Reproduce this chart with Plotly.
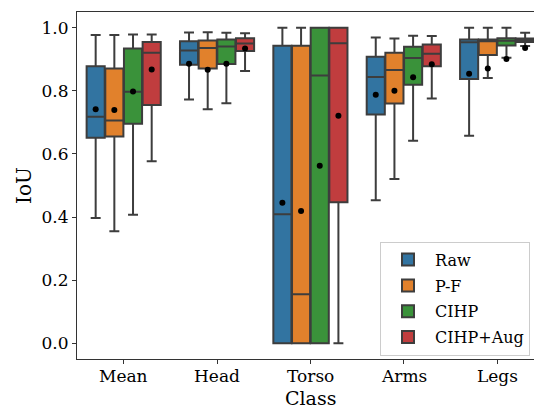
import plotly.graph_objects as go

categories = ["Mean", "Head", "Torso", "Arms", "Legs"]
series = ["Raw", "P-F", "CIHP", "CIHP+Aug"]
colors = ["#3274a1", "#e1812c", "#3a923a", "#c03d3e"]

# per series: values for [Mean, Head, Torso, Arms, Legs]
upper = {
    "Raw":      [0.977, 0.985, 1.000, 0.969, 1.000],
    "P-F":      [0.977, 0.986, 1.000, 0.966, 1.000],
    "CIHP":     [0.979, 0.984, 1.000, 0.975, 1.000],
    "CIHP+Aug": [0.979, 0.983, 1.000, 0.974, 0.984],
}
q3 = {
    "Raw":      [0.878, 0.957, 0.943, 0.908, 0.963],
    "P-F":      [0.871, 0.960, 0.943, 0.921, 0.963],
    "CIHP":     [0.934, 0.963, 1.000, 0.940, 0.967],
    "CIHP+Aug": [0.955, 0.967, 1.000, 0.947, 0.966],
}
median = {
    "Raw":      [0.718, 0.928, 0.409, 0.844, 0.954],
    "P-F":      [0.706, 0.936, 0.155, 0.866, 0.957],
    "CIHP":     [0.797, 0.941, 0.849, 0.904, 0.959],
    "CIHP+Aug": [0.921, 0.950, 0.951, 0.918, 0.960],
}
q1 = {
    "Raw":      [0.651, 0.883, 0.000, 0.725, 0.838],
    "P-F":      [0.655, 0.871, 0.000, 0.760, 0.914],
    "CIHP":     [0.696, 0.885, 0.000, 0.819, 0.944],
    "CIHP+Aug": [0.755, 0.926, 0.447, 0.878, 0.955],
}
lower = {
    "Raw":      [0.397, 0.773, 0.000, 0.453, 0.658],
    "P-F":      [0.355, 0.742, 0.000, 0.521, 0.841],
    "CIHP":     [0.407, 0.761, 0.000, 0.642, 0.905],
    "CIHP+Aug": [0.577, 0.863, 0.000, 0.776, 0.942],
}
mean = {
    "Raw":      [0.742, 0.886, 0.445, 0.788, 0.854],
    "P-F":      [0.739, 0.867, 0.419, 0.800, 0.871],
    "CIHP":     [0.798, 0.886, 0.563, 0.843, 0.901],
    "CIHP+Aug": [0.868, 0.934, 0.721, 0.884, 0.936],
}

FONT = "DejaVu Serif"
EDGE = "#3d3d3d"
group_width = 0.8
n = len(series)
bw = group_width / n

fig = go.Figure()
for k, s in enumerate(series):
    off = -group_width / 2 + bw * (k + 0.5)
    xs = [i + off for i in range(len(categories))]
    fig.add_trace(go.Box(
        name=s, x=xs, legendgroup=s,
        q1=q1[s], median=median[s], q3=q3[s],
        lowerfence=lower[s], upperfence=upper[s],
        width=bw * 0.97,
        fillcolor=colors[k],
        line=dict(color=EDGE, width=2),
        whiskerwidth=0.55,
        boxpoints=False,
        hoverinfo="skip",
    ))
for k, s in enumerate(series):
    off = -group_width / 2 + bw * (k + 0.5)
    xs = [i + off for i in range(len(categories))]
    fig.add_trace(go.Scatter(
        x=xs, y=mean[s], mode="markers",
        marker=dict(color="black", size=6),
        showlegend=False, hoverinfo="skip",
    ))

# category tick labels and x-axis title as annotations (tighter placement)
for i, c in enumerate(categories):
    fig.add_annotation(
        x=i, xref="x", y=0, yref="paper", yanchor="top", yshift=-5,
        text=c, showarrow=False, font=dict(size=17, family=FONT, color="black"),
    )
fig.add_annotation(
    x=2, xref="x", y=0, yref="paper", yanchor="top", yshift=-26,
    text="Class", showarrow=False, font=dict(size=19, family=FONT, color="black"),
)

fig.update_layout(
    width=534, height=408,
    margin=dict(l=77, r=0, t=12, b=49, autoexpand=False),
    paper_bgcolor="white", plot_bgcolor="white",
    boxmode="overlay",
    font=dict(family=FONT, color="black", size=16),
    showlegend=True,
    legend=dict(
        x=0.663, y=0.338, xanchor="left", yanchor="top",
        bgcolor="rgba(255,255,255,0.8)", bordercolor="#cccccc", borderwidth=1,
        font=dict(family=FONT, size=16),
        tracegroupgap=2, itemwidth=44,
    ),
)
fig.update_xaxes(
    automargin=False,
    range=[-0.5, 4.395],
    tickmode="array", tickvals=list(range(len(categories))),
    showticklabels=False,
    showgrid=False, zeroline=False,
    showline=True, linecolor="#333333", linewidth=1, mirror=True,
    ticks="outside", ticklen=4, tickcolor="#333333",
)
fig.update_yaxes(
    automargin=False,
    range=[-0.05, 1.05],
    tickvals=[0.0, 0.2, 0.4, 0.6, 0.8, 1.0],
    ticktext=["0.0", "0.2", "0.4", "0.6", "0.8", "1.0"],
    showgrid=False, zeroline=False,
    showline=True, linecolor="#333333", linewidth=1,
    ticks="outside", ticklen=4, tickcolor="#333333",
    tickfont=dict(size=17),
    title=dict(text="IoU", font=dict(size=20), standoff=4),
)

fig.write_html(
    "out.html",
    config={"displayModeBar": False},
    post_script="document.body.style.margin='0';document.body.style.padding='0';",
)
